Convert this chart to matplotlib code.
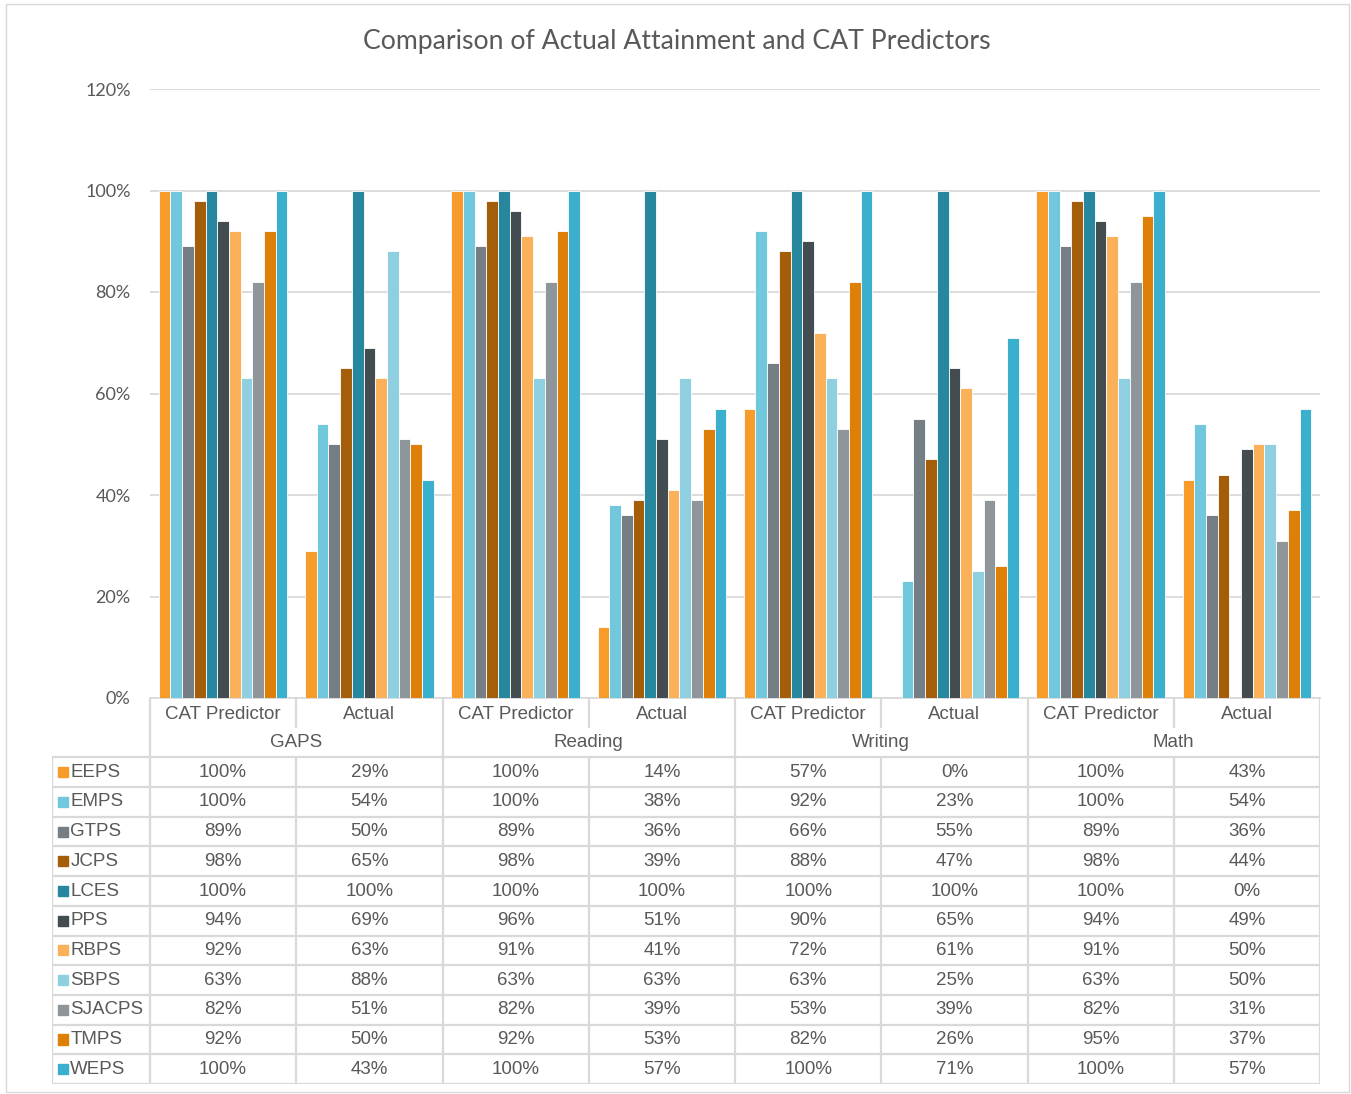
import matplotlib
matplotlib.use("Agg")
import matplotlib.pyplot as plt
from matplotlib.patches import Rectangle
import numpy as np

categories = ["GAPS", "Reading", "Writing", "Math"]
subcats = ["CAT Predictor", "Actual"]
series = ["EEPS", "EMPS", "GTPS", "JCPS", "LCES", "PPS", "RBPS", "SBPS", "SJACPS", "TMPS", "WEPS"]
colors = ["#F79B2A", "#71C7DB", "#747E84", "#A45E0A", "#27879E", "#434C50",
          "#FBB05A", "#8FD0E0", "#8F969B", "#DE8007", "#3AB0CE"]

EEPS = [100, 29, 100, 14, 57, 0, 100, 43]
EMPS = [100, 54, 100, 38, 92, 23, 100, 54]
GTPS = [89, 50, 89, 36, 66, 55, 89, 36]
JCPS = [98, 65, 98, 39, 88, 47, 98, 44]
LCES = [100, 100, 100, 100, 100, 100, 100, 0]
PPS = [94, 69, 96, 51, 90, 65, 94, 49]
RBPS = [92, 63, 91, 41, 72, 61, 91, 50]
SBPS = [63, 88, 63, 63, 63, 25, 63, 50]
SJACPS = [82, 51, 82, 39, 53, 39, 82, 31]
TMPS = [92, 50, 92, 53, 82, 26, 95, 37]
WEPS = [100, 43, 100, 57, 100, 71, 100, 57]
values = [EEPS, EMPS, GTPS, JCPS, LCES, PPS, RBPS, SBPS, SJACPS, TMPS, WEPS]

title = "Comparison of Actual Attainment and CAT Predictors"
yticks = [0, 20, 40, 60, 80, 100, 120]

W, H = 1351, 1094
fig = plt.figure(figsize=(W / 100, H / 100), dpi=100)
fig.patch.set_facecolor("white")

txt = "#595959"
grid = "#D9D9D9"
font = "Liberation Sans"

# chart border
fig.add_artist(Rectangle((6 / W, 1 - 1092 / H), (1349 - 6) / W, (1092 - 4) / H,
                         transform=fig.transFigure, fill=False, edgecolor="#D9D9D9", lw=1.0))

fig.text(677 / W, 1 - 42 / H, title, ha="center", va="center", fontsize=19.2,
         color=txt, family="Lato")

L, R, T, B = 150, 1320, 89, 698
ax = fig.add_axes([L / W, 1 - B / H, (R - L) / W, (B - T) / H])
ncol = len(categories) * len(subcats)
bw = 0.08
off = (1 - bw * len(series)) / 2
for j, (name, vals, c) in enumerate(zip(series, values, colors)):
    x = np.arange(ncol) + off + bw / 2 + j * bw
    ax.bar(x, vals, width=bw, color=c, edgecolor="white", linewidth=0.6, zorder=3)
ax.set_xlim(0, ncol)
ax.set_ylim(0, 120)
ax.set_yticks(yticks)
ax.set_yticklabels([f"{v}%" for v in yticks], fontsize=13, color=txt, family="Lato")
ax.tick_params(axis="y", length=0, pad=14)
ax.set_xticks([])
ax.grid(axis="y", color=grid, lw=1.3, zorder=0)
for s in ["top", "right", "left"]:
    ax.spines[s].set_visible(False)
ax.spines["bottom"].set_color(grid)
ax.spines["bottom"].set_linewidth(1.3)

# table
TL, TB = 52, 1084
nrows = 2 + len(series)
tab = fig.add_axes([TL / W, 1 - TB / H, (R - TL) / W, (TB - B) / H])
lab_w = (L - TL) / ((R - L) / ncol)
tab.set_xlim(-lab_w, ncol)
tab.set_ylim(nrows, 0)
tab.axis("off")
lc = "#D9D9D9"
lw = 1.6
fs = 13.5
# header row 1 verticals
for k in range(ncol + 1):
    tab.plot([k, k], [0, 1], color=lc, lw=lw, solid_capstyle="butt")
for g in range(len(categories) + 1):
    tab.plot([2 * g, 2 * g], [1, 2], color=lc, lw=lw, solid_capstyle="butt")
# data rows
for r in range(2, nrows + 1):
    tab.plot([-lab_w, ncol], [r, r], color=lc, lw=lw, solid_capstyle="butt")
for k in range(ncol + 1):
    tab.plot([k, k], [2, nrows], color=lc, lw=lw, solid_capstyle="butt")
tab.plot([-lab_w, -lab_w], [2, nrows], color=lc, lw=lw, solid_capstyle="butt")

for k in range(ncol):
    tab.text(k + 0.5, 0.55, subcats[k % 2], ha="center", va="center", fontsize=fs, color=txt, family=font)
for g, cat in enumerate(categories):
    tab.text(2 * g + 1, 1.5, cat, ha="center", va="center", fontsize=fs, color=txt, family=font)
for j, (name, vals, c) in enumerate(zip(series, values, colors)):
    r = 2 + j + 0.5
    tab.add_patch(Rectangle((-lab_w + 0.04, r - 0.17), 0.068, 0.34, color=c))
    tab.text(-lab_w + 0.125, r, name, ha="left", va="center", fontsize=fs, color=txt, family=font)
    for k, v in enumerate(vals):
        tab.text(k + 0.5, r, f"{v}%", ha="center", va="center", fontsize=fs, color=txt, family=font)

fig.savefig("out.png", dpi=100, facecolor="white")
